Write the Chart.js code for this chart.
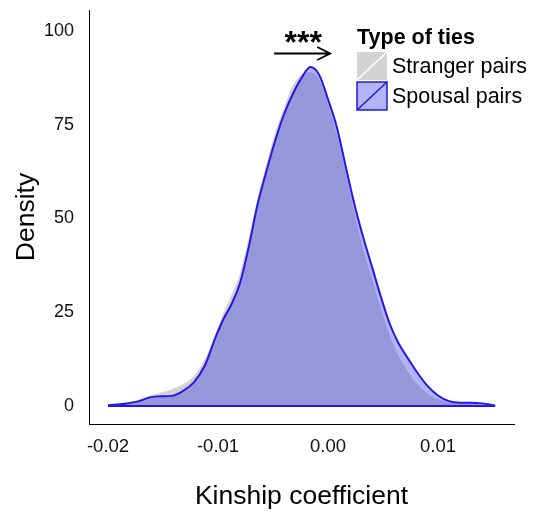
<!DOCTYPE html>
<html>
<head>
<meta charset="utf-8">
<script src="https://cdn.jsdelivr.net/npm/chart.js@4/dist/chart.umd.min.js"></script>
<style>
  html, body { margin: 0; padding: 0; background: #fff; }
  #wrap { width: 536px; height: 513px; }
</style>
</head>
<body>
<div id="wrap"><canvas id="densityChart" width="536" height="513"></canvas></div>
<script>
// kinship coefficient grid shared by both curves
const kinship = [-0.0200, -0.0185, -0.0172, -0.0162, -0.0152, -0.0142, -0.0132, -0.0122, -0.0112, -0.0102,
  -0.0095, -0.0088, -0.0080, -0.0072, -0.0064, -0.0056, -0.0048, -0.0040, -0.0032, -0.0024,
  -0.0016, -0.0008, 0.0000, 0.0008, 0.0016, 0.0024, 0.0032, 0.0040, 0.0048, 0.0056,
  0.0064, 0.0072, 0.0080, 0.0090, 0.0100, 0.0110, 0.0120, 0.0130, 0.0140, 0.0152];

const spousalDensity = [0.2, 0.6, 1.3, 2.3, 2.6, 2.7, 4.0, 6.3, 10.8, 18.5,
  23.2, 27.0, 32.8, 42.5, 53.8, 62.6, 70.8, 77.8, 83.2, 87.5,
  90.4, 88.3, 81.8, 74.4, 64.0, 53.8, 45.0, 37.1, 29.2, 22.0,
  16.8, 13.0, 9.4, 5.5, 2.8, 1.3, 0.9, 0.9, 0.7, 0.1];

const strangerDensity = [0.2, 0.7, 1.6, 2.8, 3.6, 4.5, 5.8, 8.0, 12.5, 19.5,
  25.0, 29.5, 35.5, 45.0, 55.5, 64.5, 73.0, 79.5, 85.5, 88.5,
  89.0, 87.0, 80.5, 72.5, 62.5, 51.5, 42.0, 34.0, 26.0, 19.0,
  13.5, 9.5, 6.2, 3.5, 1.8, 0.9, 0.6, 0.5, 0.3, 0.1];

const xTicks = [-0.02, -0.01, 0.00, 0.01];
const yTicks = [0, 25, 50, 75, 100];

const legendTitle = 'Type of ties';
const seriesNames = ['Stranger pairs', 'Spousal pairs'];

// significance arrow (data units)
const arrowFrom = -0.0049;
const arrowTo = 0.0002;
const arrowY = 94;
const sigLabel = '***';

const BLUE = 'rgb(35,25,225)';
const BLUE_FILL = 'rgba(45,45,235,0.36)';
const GRAY_FILL = 'rgb(211,211,211)';
const FONT = "'Liberation Sans', Arial, sans-serif";

function pts(xs, ys) {
  return xs.map((x, i) => ({ x: x, y: ys[i] }));
}

// legend + arrow drawn on top of the chart area
const extras = {
  id: 'extras',
  afterDraw(chart) {
    const ctx = chart.ctx;
    const xs = chart.scales.x, ys = chart.scales.y;
    ctx.save();

    // arrow
    const x1 = xs.getPixelForValue(arrowFrom);
    const x2 = xs.getPixelForValue(arrowTo);
    const ay = ys.getPixelForValue(arrowY);
    ctx.strokeStyle = '#000';
    ctx.lineWidth = 1.8;
    ctx.beginPath();
    ctx.moveTo(x1, ay);
    ctx.lineTo(x2, ay);
    ctx.moveTo(x2 - 13, ay - 6.5);
    ctx.lineTo(x2, ay);
    ctx.lineTo(x2 - 13, ay + 6.5);
    ctx.stroke();

    ctx.fillStyle = '#000';
    ctx.font = 'bold 32px ' + FONT;
    ctx.textAlign = 'center';
    ctx.textBaseline = 'alphabetic';
    ctx.fillText(sigLabel, (x1 + x2) / 2 + 1, ay - 1);

    // legend
    const lx = 357, ly = 38;
    ctx.textAlign = 'left';
    ctx.textBaseline = 'middle';
    ctx.font = 'bold 21.5px ' + FONT;
    ctx.fillText(legendTitle, lx, ly);

    const sw = 30, sh = 28;
    // stranger swatch
    let sy = 52;
    ctx.fillStyle = GRAY_FILL;
    ctx.fillRect(lx, sy, sw, sh);
    ctx.strokeStyle = '#fff';
    ctx.lineWidth = 1.5;
    ctx.beginPath();
    ctx.moveTo(lx, sy + sh);
    ctx.lineTo(lx + sw, sy);
    ctx.stroke();
    ctx.fillStyle = '#000';
    ctx.font = '21.5px ' + FONT;
    ctx.fillText(seriesNames[0], lx + 35, sy + sh / 2 + 1);

    // spousal swatch
    sy = 82;
    ctx.fillStyle = BLUE_FILL;
    ctx.fillRect(lx, sy, sw, sh);
    ctx.strokeStyle = BLUE;
    ctx.lineWidth = 1.5;
    ctx.strokeRect(lx, sy, sw, sh);
    ctx.beginPath();
    ctx.moveTo(lx, sy + sh);
    ctx.lineTo(lx + sw, sy);
    ctx.stroke();
    ctx.fillStyle = '#000';
    ctx.fillText(seriesNames[1], lx + 35, sy + sh / 2 + 1);

    ctx.restore();
  }
};

const ctx1 = document.getElementById('densityChart').getContext('2d');

new Chart(ctx1, {
  type: 'line',
  data: {
    datasets: [
      {
        label: seriesNames[1] + ' baseline',
        data: pts([kinship[0], kinship[kinship.length - 1]], [0, 0]),
        borderColor: BLUE,
        borderWidth: 2,
        pointRadius: 0,
        fill: false
      },
      {
        label: seriesNames[1],
        data: pts(kinship, spousalDensity),
        borderColor: BLUE,
        borderWidth: 2,
        backgroundColor: BLUE_FILL,
        pointRadius: 0,
        cubicInterpolationMode: 'monotone',
        fill: 'origin'
      },
      {
        label: seriesNames[0],
        data: pts(kinship, strangerDensity),
        borderWidth: 0,
        borderColor: 'rgba(0,0,0,0)',
        backgroundColor: GRAY_FILL,
        pointRadius: 0,
        cubicInterpolationMode: 'monotone',
        fill: 'origin'
      }
    ]
  },
  options: {
    responsive: false,
    animation: false,
    layout: { padding: { left: 0, right: 22, top: 10, bottom: 0 } },
    plugins: {
      legend: { display: false },
      tooltip: { enabled: false }
    },
    scales: {
      x: {
        type: 'linear',
        min: -0.02173,
        max: 0.01691,
        afterFit: s => { s.height = 89; s.paddingLeft = 0; s.paddingRight = 0; },
        afterBuildTicks: s => { s.ticks = xTicks.map(v => ({ value: v })); },
        grid: { display: false, drawTicks: false },
        border: { display: true, color: '#000', width: 1 },
        ticks: {
          padding: 12,
          color: '#111',
          font: { family: FONT, size: 18.5 },
          callback: v => v.toFixed(2)
        },
        title: {
          display: true,
          text: 'Kinship coefficient',
          color: '#000',
          font: { family: FONT, size: 26.5 },
          padding: { top: 0, bottom: 0 }
        }
      },
      y: {
        min: -4.8,
        max: 105.6,
        afterFit: s => { s.width = 89; s.paddingTop = 0; s.paddingBottom = 0; },
        afterBuildTicks: s => { s.ticks = yTicks.map(v => ({ value: v })); },
        grid: { display: false, drawTicks: false },
        border: { display: true, color: '#000', width: 1 },
        ticks: {
          padding: 15,
          color: '#111',
          font: { family: FONT, size: 18 },
          callback: v => String(v)
        },
        title: {
          display: true,
          text: 'Density',
          color: '#000',
          font: { family: FONT, size: 26.5 },
          padding: { top: 11, bottom: 0 }
        }
      }
    }
  },
  plugins: [extras]
});
</script>
</body>
</html>
